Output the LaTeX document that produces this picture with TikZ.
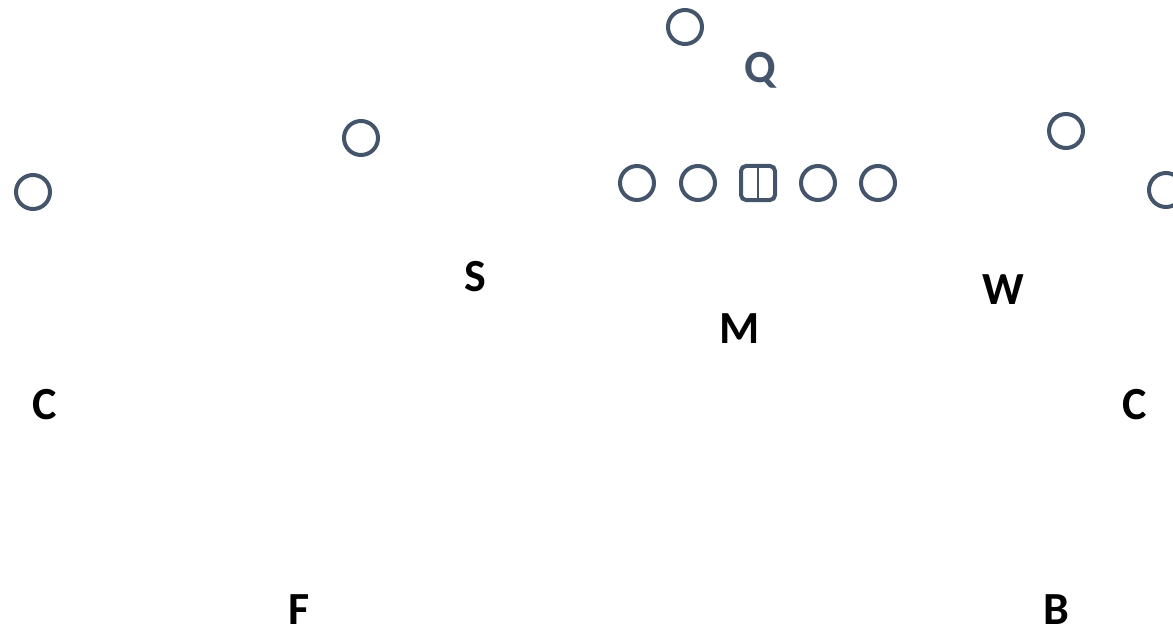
\documentclass[tikz,border=0pt]{standalone}
\usepackage{fontspec}
\setmainfont{Carlito}
\definecolor{slate}{HTML}{44546A}
\tikzset{
  offense/.style={circle,draw=slate,line width=2pt,minimum size=17pt,inner sep=0pt},
  center/.style={rectangle,rounded corners=2.5pt,draw=slate,line width=2pt,minimum size=17pt,inner sep=0pt},
  defense/.style={font=\fontsize{23}{23}\selectfont\bfseries,inner sep=0pt}
}
\begin{document}
\begin{tikzpicture}[x=0.5pt,y=-0.5pt]
\useasboundingbox (0,0) rectangle (1173,631);
\clip (0,0) rectangle (1173,631);

% offense
\node[offense] (qb) at (685,27) {};
\node[offense] (lt) at (637,183) {};
\node[offense] (lg) at (698,183) {};
\node[center] (c) at (758,183) {};
\draw[slate,line width=0.7pt] (c.north) -- (c.south);
\node[offense] (rg) at (818,183) {};
\node[offense] (rt) at (878,183) {};
\node[offense] (slot) at (361,138) {};
\node[offense] (wl) at (33,192) {};
\node[offense] (te) at (1066,131) {};
\node[offense] (wr) at (1166,190) {};
\node[defense,text=slate] (q) at (760,70) {Q};

% defense
\node[defense] (s) at (475,277) {S};
\node[defense] (m) at (740,329) {M};
\node[defense] (w) at (1003,290) {W};
\node[defense] (cl) at (45,405) {C};
\node[defense] (cr) at (1135,405) {C};
\node[defense] (f) at (299,610) {F};
\node[defense] (b) at (1056,610) {B};
\end{tikzpicture}
\end{document}
